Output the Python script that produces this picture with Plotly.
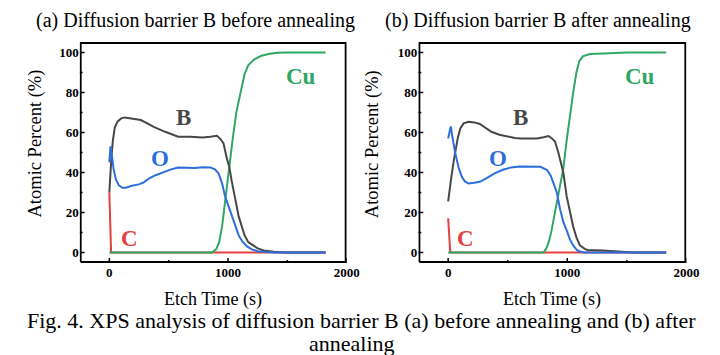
import plotly.graph_objects as go

# ---------------- data: panel (a) before annealing ----------------
t_a_C = [0, 15, 1822]
v_a_C = [30, 0, 0]

t_a_Cu = [0, 866, 900, 925, 950, 975, 1010, 1040, 1070, 1100, 1139, 1170, 1221, 1276, 1340, 1412, 1500, 1822]
v_a_Cu = [0, 0, 1.5, 5, 13, 26, 42.8, 57, 70, 78, 89, 93.5, 96.5, 98.2, 99.2, 99.8, 100, 100]

t_a_B = [0, 8, 18, 30, 46, 70, 100, 130, 200, 265, 320, 374, 470, 580, 680, 784, 850, 907, 935, 962, 990, 1010, 1030, 1060, 1090, 1139, 1170, 1200, 1250, 1300, 1385, 1470, 1822]
v_a_B = [30, 40, 48, 56, 62.5, 65.5, 67, 67.5, 66.8, 66.2, 64.5, 62.8, 60.3, 57.8, 57.8, 57.4, 57.8, 58.3, 56.8, 54.5, 47, 43, 36, 26, 18, 8.6, 5.2, 4, 2, 1, 0.3, 0, 0]

t_a_O = [0, 10, 20, 35, 55, 80, 110, 140, 190, 250, 290, 340, 390, 450, 520, 580, 650, 720, 790, 850, 890, 920, 950, 975, 1005, 1030, 1060, 1090, 1120, 1160, 1200, 1250, 1320, 1400, 1822]
v_a_O = [45, 53, 49, 42, 36.5, 33.5, 32.3, 32.3, 33.3, 34, 35, 37.2, 38.6, 40, 41.5, 42.4, 42.2, 42.2, 42.6, 42.5, 41.5, 39.5, 34.5, 28, 23, 18.5, 13, 8.5, 5.5, 3, 1.5, 0.6, 0.2, 0, 0]

# ---------------- data: panel (b) after annealing ----------------
t_b_C = [0, 18, 1830]
v_b_C = [17, 0, 0]

t_b_Cu = [0, 802, 825, 843, 865, 890, 920, 945, 967, 995, 1022, 1050, 1077, 1100, 1130, 1160, 1190, 1300, 1500, 1830]
v_b_Cu = [0, 0, 2, 5, 10, 18, 28, 35, 42, 56, 69, 80, 90, 95.5, 98, 98.8, 99.2, 99.5, 99.9, 100]

t_b_B = [0, 10, 27, 45, 60, 80, 102, 130, 170, 220, 266, 320, 363, 430, 500, 560, 610, 680, 747, 800, 843, 871, 898, 925, 954, 967, 995, 1022, 1050, 1077, 1105, 1146, 1170, 1300, 1450, 1550, 1830]
v_b_B = [25.5, 31, 37.8, 45, 51, 57, 62, 64.5, 65.3, 65, 64.2, 62, 60.3, 58.8, 57.8, 57.2, 57, 57, 57, 57.6, 58.2, 57, 55.3, 50, 43, 40, 28, 21, 12.8, 7.5, 3.6, 1.8, 1.2, 0.9, 0.4, 0, 0]

t_b_O = [0, 10, 22, 35, 60, 90, 115, 140, 170, 220, 266, 320, 390, 460, 528, 600, 680, 775, 830, 860, 885, 912, 940, 968, 995, 1022, 1050, 1080, 1105, 1140, 1830]
v_b_O = [57, 60, 63, 58, 49.5, 42, 37.8, 35.5, 34.5, 34.8, 35.3, 37, 39.5, 41.3, 42.5, 43, 42.8, 42.8, 41.2, 38.5, 34.5, 30, 21.5, 15, 11, 6.5, 3.5, 1.2, 0.4, 0, 0]

# ---------------- axes / ticks ----------------
x_range = [-250, 2000]
y_range = [-5.3, 105.2]
x_major = [0, 1000, 2000]
x_minor = [500, 1500]
y_major = [0, 20, 40, 60, 80, 100]
y_minor = [10, 30, 50, 70, 90]

titles = ["(a) Diffusion barrier B before annealing", "(b) Diffusion barrier B after annealing"]
x_title = "Etch Time (s)"
y_title = "Atomic Percent (%)"
caption1 = "Fig. 4. XPS analysis of diffusion barrier B (a) before annealing and (b) after"
caption2 = "annealing"

labels_a = [("B", 623, 67.6), ("O", 426, 47), ("C", 172, 7), ("Cu", 1615, 87.7)]
labels_b = [("B", 610, 67.6), ("O", 418, 47), ("C", 148, 7), ("Cu", 1613, 87.7)]

COL = {"C": "#e5403f", "Cu": "#2ea862", "B": "#474747", "O": "#2c6fdc"}
SERIF = "Liberation Serif"

# page body has an 8px margin: figure occupies window pixels 8..720 / 8..355
OFF = 8
W, H = 720 - OFF, 355 - OFF
def fx(x):
    return (x - OFF) / W
def fy(y):
    return 1 - (y - OFF) / H

PANEL_X = [(81, 353), (426, 699)]
PANEL_Y = (42, 263)

fig = go.Figure()

def add_panel(xa, ya, data, px):
    for name, t, v in data:
        fig.add_trace(go.Scatter(x=t, y=v, mode="lines", name=name,
                                 line=dict(color=COL[name], width=2),
                                 xaxis=xa, yaxis=ya, showlegend=False))
    # frame and inside tick marks drawn through the same axes
    ux = (x_range[1] - x_range[0]) / (px[1] - px[0])      # data units per pixel
    uy = (y_range[1] - y_range[0]) / (PANEL_Y[1] - PANEL_Y[0])
    xl, xr = x_range[0] + ux, x_range[1] - ux
    yb, yt = y_range[0] + uy, y_range[1] - uy
    fx_, fy_ = [xl, xr, xr, xl, xl], [yb, yb, yt, yt, yb]
    tx, ty = [], []
    for vals, ln in ((x_major, 5), (x_minor, 3)):
        for v in vals:
            tx += [v, v, None]
            ty += [y_range[0], y_range[0] + ln * uy, None]
    for vals, ln in ((y_major, 5), (y_minor, 3)):
        for v in vals:
            tx += [x_range[0], x_range[0] + ln * ux, None]
            ty += [v, v, None]
    fig.add_trace(go.Scatter(x=tx, y=ty, mode="lines", line=dict(color="#000000", width=1.5),
                             xaxis=xa, yaxis=ya, showlegend=False, hoverinfo="skip"))
    fig.add_trace(go.Scatter(x=fx_, y=fy_, mode="lines", line=dict(color="#000000", width=2),
                             xaxis=xa, yaxis=ya, showlegend=False, hoverinfo="skip"))

add_panel("x", "y", [("C", t_a_C, v_a_C), ("Cu", t_a_Cu, v_a_Cu),
                     ("B", t_a_B, v_a_B), ("O", t_a_O, v_a_O)], PANEL_X[0])
add_panel("x2", "y2", [("C", t_b_C, v_b_C), ("Cu", t_b_Cu, v_b_Cu),
                       ("B", t_b_B, v_b_B), ("O", t_b_O, v_b_O)], PANEL_X[1])

xdom_a = [fx(PANEL_X[0][0]), fx(PANEL_X[0][1])]
xdom_b = [fx(PANEL_X[1][0]), fx(PANEL_X[1][1])]
ydom = [fy(PANEL_Y[1]), fy(PANEL_Y[0])]

tf_bold = dict(family=SERIF, size=13, color="#000000", weight="bold")
xcommon = dict(range=x_range, tickmode="array", tickvals=x_major, tickfont=tf_bold,
               ticks="", showline=False, showgrid=False, zeroline=False)
ycommon = dict(range=y_range, tickmode="array", tickvals=y_major, tickfont=tf_bold,
               ticks="", showline=False, showgrid=False, zeroline=False)

fig.update_layout(
    width=W, height=H, margin=dict(l=0, r=0, t=0, b=0),
    paper_bgcolor="white", plot_bgcolor="white",
    xaxis=dict(domain=xdom_a, anchor="y", **xcommon),
    yaxis=dict(domain=ydom, anchor="x", **ycommon),
    xaxis2=dict(domain=xdom_b, anchor="y2", **xcommon),
    yaxis2=dict(domain=ydom, anchor="x2", **ycommon),
)

ann = []
def pa(text, x, y, size, angle=0):
    ann.append(dict(text=text, x=fx(x), y=fy(y), xref="paper", yref="paper",
                    showarrow=False, xanchor="center", yanchor="middle", textangle=angle,
                    font=dict(family=SERIF, size=size, color="black")))

pa(titles[0], 198.5, 21, 20)
pa(titles[1], 547.5, 21, 20)
pa(x_title, 217, 299, 18)
pa(x_title, 562, 299, 18)
pa(y_title, 35, 144, 18.5, angle=-90)
pa(y_title, 379, 144, 18.5, angle=-90)
pa(caption1, 368, 320, 22)
pa(caption2, 358, 343, 22)

for (txt, x, y) in labels_a:
    ann.append(dict(text="<b>%s</b>" % txt, x=x, y=y, xref="x", yref="y", showarrow=False,
                    font=dict(family=SERIF, size=23, color=COL[txt])))
for (txt, x, y) in labels_b:
    ann.append(dict(text="<b>%s</b>" % txt, x=x, y=y, xref="x2", yref="y2", showarrow=False,
                    font=dict(family=SERIF, size=23, color=COL[txt])))

fig.update_layout(annotations=ann)
fig.write_html("out.html")
